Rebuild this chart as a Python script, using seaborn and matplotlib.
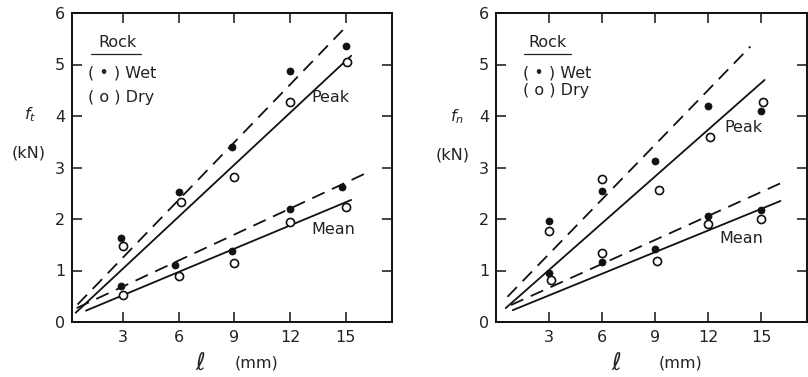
import numpy as np
import pandas as pd
import matplotlib
matplotlib.use("Agg")
import matplotlib.pyplot as plt
import seaborn as sns

# ---------------- data ----------------
# left panel: f_t
ft_peak_wet = [1.63, 2.53, 3.40, 4.88, 5.35]
ft_peak_dry = [1.47, 2.33, 2.82, 4.28, 5.05]
ft_mean_wet = [0.69, 1.10, 1.38, 2.20, 2.63]
ft_mean_dry = [0.52, 0.90, 1.15, 1.95, 2.23]
ft_x_wet = [2.9, 6.0, 8.9, 12.0, 15.0]
ft_x_dry = [3.0, 6.1, 9.0, 12.0, 15.1]
ft_x_mwet = [2.9, 5.8, 8.9, 12.0, 14.8]
ft_x_mdry = [3.0, 6.0, 9.0, 12.0, 15.0]

# fitted lines (endpoints) left
ft_peak_wet_line_x = [0.55, 14.85]
ft_peak_wet_line_y = [0.34, 5.67]
ft_peak_dry_line_x = [0.45, 15.3]
ft_peak_dry_line_y = [0.18, 5.17]
ft_mean_wet_line_x = [0.5, 16.1]
ft_mean_wet_line_y = [0.27, 2.89]
ft_mean_dry_line_x = [1.0, 15.3]
ft_mean_dry_line_y = [0.22, 2.37]

# right panel: f_n
fn_peak_wet = [1.97, 2.55, 3.12, 4.20, 4.10]
fn_peak_dry = [1.77, 2.78, 2.57, 3.60, 4.27]
fn_mean_wet = [0.95, 1.17, 1.42, 2.05, 2.17]
fn_mean_dry = [0.81, 1.34, 1.18, 1.90, 2.00]
fn_x_wet = [3.0, 6.0, 9.0, 12.0, 15.0]
fn_x_dry = [3.0, 6.0, 9.2, 12.1, 15.1]
fn_x_mwet = [3.0, 6.0, 9.0, 12.0, 15.0]
fn_x_mdry = [3.1, 6.0, 9.1, 12.0, 15.0]

fn_peak_wet_line_x = [0.65, 14.4]
fn_peak_wet_line_y = [0.49, 5.35]
fn_peak_dry_line_x = [0.55, 15.2]
fn_peak_dry_line_y = [0.27, 4.70]
fn_mean_wet_line_x = [0.85, 16.4]
fn_mean_wet_line_y = [0.33, 2.74]
fn_mean_dry_line_x = [0.95, 16.1]
fn_mean_dry_line_y = [0.23, 2.35]

y_ticks = [0, 1, 2, 3, 4, 5, 6]
x_ticks = [3, 6, 9, 12, 15]

# ---------------- plot ----------------
sns.set_style("white")
plt.rcParams['font.family'] = ['DejaVu Sans']

fig = plt.figure(figsize=(8.08, 3.77), dpi=100)
axL = fig.add_axes([72/808, 55/377, (392-72)/808, (322-13)/377])
axR = fig.add_axes([496/808, 55/377, (807-496)/808, (322-13)/377])

LW = 1.3
FS = 11.5
INK = '#222222'
TXT = dict(fontsize=FS, color=INK)


def draw(ax, d, xlim):
    for (lx, ly, dashed) in d['lines']:
        df = pd.DataFrame({'x': lx, 'y': ly})
        sns.lineplot(data=df, x='x', y='y', ax=ax, color='#111111', lw=LW,
                     linestyle=(0, (7.5, 4.5)) if dashed else '-', sort=False)
    for (px, py) in d['wet']:
        df = pd.DataFrame({'x': px, 'y': py})
        sns.scatterplot(data=df, x='x', y='y', ax=ax, color='#111111', s=26,
                        edgecolor='#111111', linewidth=0.5, zorder=4)
    for (px, py) in d['dry']:
        df = pd.DataFrame({'x': px, 'y': py})
        sns.scatterplot(data=df, x='x', y='y', ax=ax, facecolor='white', s=34,
                        edgecolor='#111111', linewidth=1.2, zorder=5)
    ax.set_xlim(*xlim)
    ax.set_ylim(0, 6)
    ax.set_xticks(x_ticks)
    ax.set_xticklabels([str(v) for v in x_ticks], fontsize=FS, color=INK)
    ax.set_yticks(y_ticks)
    ax.set_yticklabels([str(v) for v in y_ticks], fontsize=FS, color=INK)
    ax.tick_params(axis='x', direction='in', length=7, width=1.2, top=True,
                   bottom=True, pad=6)
    ax.tick_params(axis='y', direction='in', length=7, width=1.2, left=True,
                   right=True, pad=5)
    ax.set_xlabel('')
    ax.set_ylabel('')
    for sp in ax.spines.values():
        sp.set_linewidth(1.4)
        sp.set_color('#111111')
        sp.set_visible(True)


draw(axL, {
    'lines': [(ft_peak_wet_line_x, ft_peak_wet_line_y, True),
              (ft_peak_dry_line_x, ft_peak_dry_line_y, False),
              (ft_mean_wet_line_x, ft_mean_wet_line_y, True),
              (ft_mean_dry_line_x, ft_mean_dry_line_y, False)],
    'wet': [(ft_x_wet, ft_peak_wet), (ft_x_mwet, ft_mean_wet)],
    'dry': [(ft_x_dry, ft_peak_dry), (ft_x_mdry, ft_mean_dry)],
}, (0.25, 17.5))

draw(axR, {
    'lines': [(fn_peak_wet_line_x, fn_peak_wet_line_y, True),
              (fn_peak_dry_line_x, fn_peak_dry_line_y, False),
              (fn_mean_wet_line_x, fn_mean_wet_line_y, True),
              (fn_mean_dry_line_x, fn_mean_dry_line_y, False)],
    'wet': [(fn_x_wet, fn_peak_wet), (fn_x_mwet, fn_mean_wet)],
    'dry': [(fn_x_dry, fn_peak_dry), (fn_x_mdry, fn_mean_dry)],
}, (0.0, 17.6))

# annotations in data coords
axL.text(2.7, 5.42, 'Rock', ha='center', va='center', **TXT)
axL.plot([1.27, 3.95], [5.2, 5.2], color=INK, lw=0.9)
axL.text(1.1, 4.84, '( \u2022 ) Wet', ha='left', va='center', **TXT)
axL.text(1.1, 4.36, '( o ) Dry', ha='left', va='center', **TXT)
axL.text(14.2, 4.35, 'Peak', ha='center', va='center', **TXT)
axL.text(14.35, 1.79, 'Mean', ha='center', va='center', **TXT)

axR.text(2.9, 5.42, 'Rock', ha='center', va='center', **TXT)
axR.plot([1.58, 4.24], [5.2, 5.2], color=INK, lw=0.9)
axR.text(1.5, 4.84, '( \u2022 ) Wet', ha='left', va='center', **TXT)
axR.text(1.5, 4.5, '( o ) Dry', ha='left', va='center', **TXT)
axR.text(14.0, 3.78, 'Peak', ha='center', va='center', **TXT)
axR.text(13.9, 1.63, 'Mean', ha='center', va='center', **TXT)

# y labels
fig.text(30/808, 1-115/377, '$f_t$', ha='center', va='center', fontsize=FS, color=INK)
fig.text(29/808, 1-153/377, '(kN)', ha='center', va='center', fontsize=FS, color=INK)
fig.text(457/808, 1-117/377, '$f_n$', ha='center', va='center', fontsize=FS, color=INK)
fig.text(453/808, 1-155/377, '(kN)', ha='center', va='center', fontsize=FS, color=INK)

# x labels
fig.text(200/808, 1-363/377, r'$\ell$', ha='center', va='center', fontsize=17, color=INK)
fig.text(257/808, 1-363/377, '(mm)', ha='center', va='center', fontsize=FS, color=INK)
fig.text(616/808, 1-363/377, r'$\ell$', ha='center', va='center', fontsize=17, color=INK)
fig.text(681/808, 1-363/377, '(mm)', ha='center', va='center', fontsize=FS, color=INK)

fig.savefig('out.png', dpi=100, facecolor='white')
